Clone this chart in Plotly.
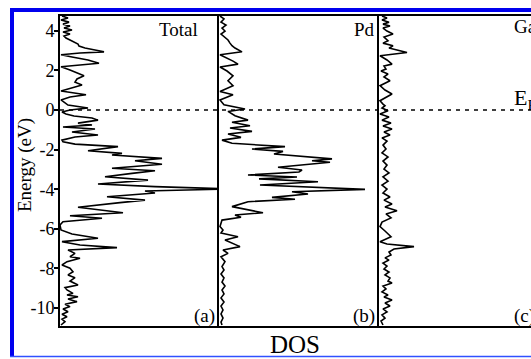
import plotly.graph_objects as go

# Density of states: energy (eV) vs DOS (arb. units)
total_energy = [4.75, 4.65, 4.55, 4.44, 4.34, 4.24, 4.14, 4.04, 3.94, 3.84, 3.74, 3.64, 3.54, 3.43,
                3.33, 3.23, 3.13, 3.03, 2.94, 2.88, 2.79, 2.68, 2.53, 2.36, 2.27, 2.19, 2.02, 1.87,
                1.73, 1.57, 1.41, 1.26, 1.11, 0.96, 0.77, 0.66, 0.51, 0.40, 0.25, 0.10, 0.00, -0.10,
                -0.20, -0.30, -0.40, -0.51, -0.66, -0.76, -0.86, -0.96, -1.11, -1.26, -1.36, -1.52,
                -1.60, -1.72, -1.85, -2.06, -2.19, -2.27, -2.44, -2.56, -2.74, -2.94, -3.07, -3.20,
                -3.37, -3.54, -3.74, -3.87, -3.99, -4.09, -4.19, -4.38, -4.55, -4.68, -4.91, -5.19,
                -5.34, -5.47, -5.64, -5.81, -6.06, -6.26, -6.48, -6.65, -6.82, -6.95, -7.07, -7.24,
                -7.41, -7.49, -7.66, -7.83, -7.99, -8.17, -8.33, -8.47, -8.64, -8.84, -8.97, -9.09,
                -9.26, -9.34, -9.43, -9.55, -9.68, -9.81, -9.93, -10.05, -10.19, -10.32, -10.44,
                -10.56, -10.69, -10.86]
total_dos = [0.2, 0.8, 0.1, 0.9, 0.3, 1.0, 0.4, 1.2, 0.3, 1.0, 0.4, 0.6, 1.0, 1.4,
             1.8, 1.9, 2.5, 3.5, 4.4, 2.0, 0.1, 1.2, 2.8, 3.9, 1.5, 0.1, 1.0, 1.8,
             2.4, 1.7, 1.5, 2.2, 1.0, 0.1, 2.6, 1.0, 0.1, 0.4, 0.8, 2.8, 1.0, 0.2,
             0.6, 1.4, 3.2, 3.8, 1.8, 3.2, 0.3, 3.5, 1.2, 3.8, 1.5, 0.2,
             0.3, 1.5, 5.8, 2.8, 6.2, 5.2, 10.2, 7.5, 10.2, 5.2, 9.5, 7.2,
             4.5, 8.8, 3.8, 9.5, 17.0, 8.5, 9.5, 4.7, 8.5, 6.0, 1.8, 6.3,
             1.0, 4.2, 0.3, 0.0, 0.1, 1.2, 3.8, 0.2, 2.0, 5.7, 0.8, 1.5,
             1.0, 2.0, 0.7, 0.2, 1.0, 1.3, 0.8, 1.5, 1.0, 1.8, 0.5, 0.7,
             1.3, 0.7, 1.8, 0.8, 1.7, 0.5, 1.0, 0.3, 0.8, 0.2, 0.7,
             0.2, 0.5, 0.1]

pd_energy = [4.75, 4.60, 4.44, 4.29, 4.14, 3.99, 3.84, 3.69, 3.54, 3.38, 3.25, 3.13, 2.94, 2.79,
             2.63, 2.47, 2.32, 2.17, 1.97, 1.73, 1.48, 1.23, 0.94, 0.77, 0.51, 0.27, 0.05, -0.07,
             -0.29, -0.51, -0.62, -0.79, -0.91, -1.08, -1.21, -1.38, -1.52, -1.68, -1.85, -1.97,
             -2.09, -2.22, -2.47, -2.56, -2.64, -2.89, -3.03, -3.13, -3.28, -3.38, -3.48, -3.62,
             -3.79, -3.87, -4.01, -4.13, -4.24, -4.41, -4.51, -4.63, -4.88, -5.19, -5.30, -5.42,
             -5.56, -5.89, -6.06, -6.21, -6.40, -6.57, -6.90, -7.07, -7.24, -7.41, -7.66, -7.91,
             -8.08, -8.28, -8.48, -8.69, -8.89, -9.09, -9.29, -9.49, -9.70, -9.90, -10.10, -10.30,
             -10.51, -10.71, -10.86]
pd_dos = [0.1, 0.5, 0.2, 0.7, 0.3, 0.6, 0.2, 0.5, 0.9, 1.1, 1.3, 1.6, 2.3, 0.1,
          0.8, 1.4, 1.9, 0.1, 0.8, 1.4, 0.9, 1.4, 0.1, 1.4, 0.1, 0.5, 2.6, 0.9,
          1.6, 2.9, 1.3, 3.1, 1.1, 3.3, 0.9, 2.2, 0.3, 1.3, 6.6, 3.3,
          6.4, 5.5, 11.3, 9.3, 11.1, 5.9, 8.3, 8.0, 2.9, 7.8, 4.0, 9.9,
          4.1, 7.9, 14.6, 7.3, 8.9, 5.3, 7.6, 2.9, 1.3, 4.4, 1.6, 2.2,
          0.3, 0.1, 0.4, 0.2, 1.9, 0.6, 2.1, 0.4, 0.9, 0.2, 0.6, 0.3,
          0.5, 0.2, 0.5, 0.3, 0.6, 0.3, 0.5, 0.2, 0.5, 0.2, 0.4, 0.2,
          0.4, 0.2, 0.3]

ga_energy = [4.75, 4.65, 4.55, 4.44, 4.34, 4.24, 4.14, 3.99, 3.84, 3.69, 3.50, 3.38, 3.25, 3.13,
             2.91, 2.74, 2.53, 2.32, 2.22, 2.07, 1.97, 1.82, 1.67, 1.48, 1.23, 1.01, 0.81, 0.47,
             0.30, 0.22, 0.10, -0.04, -0.20, -0.35, -0.51, -0.66, -0.81, -0.96, -1.11, -1.26,
             -1.41, -1.57, -1.77, -1.97, -2.17, -2.37, -2.58, -2.78, -2.98, -3.18, -3.38, -3.59,
             -3.79, -3.99, -4.19, -4.39, -4.55, -4.75, -4.90, -5.09, -5.25, -5.45, -5.66, -5.89,
             -6.11, -6.40, -6.65, -6.77, -6.90, -7.02, -7.17, -7.32, -7.47, -7.58, -7.73, -7.88,
             -8.03, -8.18, -8.33, -8.48, -8.64, -8.74, -8.89, -9.04, -9.19, -9.34, -9.44, -9.60,
             -9.75, -9.90, -10.05, -10.20, -10.35, -10.51, -10.66, -10.86]
ga_dos = [0.3, 0.8, 0.3, 1.0, 0.4, 1.1, 0.4, 0.8, 1.4, 0.5, 0.9, 0.4, 1.4, 1.0,
          2.8, 0.1, 0.8, 1.3, 0.5, 0.7, 0.2, 0.9, 0.5, 1.1, 0.1, 0.6, 1.3, 0.1,
          0.4, 0.6, 0.3, 0.9, 0.1, 1.0, 0.3, 1.2, 0.4, 1.3, 0.5, 1.1,
          0.3, 0.8, 0.4, 0.7, 0.3, 0.9, 0.4, 0.8, 0.5, 1.0, 0.4, 0.9,
          0.3, 0.8, 0.4, 1.1, 0.5, 1.3, 0.6, 1.8, 0.7, 1.2, 0.3, 0.1,
          0.6, 1.2, 0.1, 0.8, 3.5, 1.5, 1.0, 1.2, 0.6, 1.0, 0.4, 0.8,
          0.5, 1.0, 0.6, 1.1, 0.9, 1.3, 0.4, 0.7, 0.3, 0.9, 0.5, 1.3,
          0.6, 1.1, 0.4, 0.8, 0.3, 0.6, 0.2, 0.4]

energy_ticks = [-10, -8, -6, -4, -2, 0, 2, 4]
energy_tick_text = ["-10", "-8", "-6", "-4", "-2", "0", "2", "4"]
panel_names = ["Total", "Pd", "Ga"]
panel_tags = ["(a)", "(b)", "(c)"]

W, H = 531, 359
SERIF = "Liberation Serif"


def px(x):
    return x / W


def py(y):
    return 1 - y / H


x_domains = [[px(60), px(219)], [px(219), px(379)], [px(379), 1.0]]
x_ranges = [[0, 15.9], [0, 16.0], [0, 15.2]]
y_domain = [py(326), py(16)]
y_range = [-10.91, 4.75]

fig = go.Figure()
series = [(total_dos, total_energy), (pd_dos, pd_energy), (ga_dos, ga_energy)]
for i, (dos, en) in enumerate(series):
    sfx = "" if i == 0 else str(i + 1)
    fig.add_trace(go.Scatter(x=dos, y=en, mode="lines", xaxis="x" + sfx, yaxis="y" + sfx,
                             line=dict(color="black", width=1.6), showlegend=False,
                             hoverinfo="skip", cliponaxis=True))

layout = dict(width=W, height=H, margin=dict(l=0, r=0, t=0, b=0),
              paper_bgcolor="white", plot_bgcolor="white", showlegend=False)
for i in range(3):
    sfx = "" if i == 0 else str(i + 1)
    layout["xaxis" + sfx] = dict(domain=x_domains[i], range=x_ranges[i], anchor="y" + sfx,
                                 showgrid=False, zeroline=False, showticklabels=False,
                                 ticks="", showline=True, mirror=True, linecolor="black",
                                 linewidth=2)
    layout["yaxis" + sfx] = dict(domain=y_domain, range=y_range, anchor="x" + sfx,
                                 showgrid=False, zeroline=False, showline=True,
                                 linecolor="black", linewidth=2, mirror=False)
layout["yaxis"].update(tickvals=energy_ticks, ticktext=energy_tick_text, ticks="outside",
                       ticklen=4, tickwidth=1.5, tickcolor="black", ticklabelstandoff=-4,
                       tickfont=dict(family=SERIF, size=18, color="black"))
layout["yaxis2"].update(showticklabels=False, ticks="")
layout["yaxis3"].update(showticklabels=False, ticks="")
fig.update_layout(**layout)

shapes = [
    # Fermi level
    dict(type="line", xref="paper", yref="y", x0=px(60), x1=1.0, y0=0, y1=0,
         line=dict(color="black", width=1.5, dash="4px,5px")),
    # blue frame
    dict(type="rect", xref="paper", yref="paper", x0=px(10), x1=1.02, y0=py(12), y1=py(8),
         fillcolor="#0000ee", line=dict(width=0)),
    dict(type="rect", xref="paper", yref="paper", x0=px(10), x1=px(14), y0=py(357), y1=py(8),
         fillcolor="#0000ee", line=dict(width=0)),
    dict(type="line", xref="paper", yref="paper", x0=px(10), x1=1.0, y0=py(356.5), y1=py(356.5),
         line=dict(color="#3050ff", width=1.5)),
]
fig.update_layout(shapes=shapes)

annotations = [
    dict(text=panel_names[0], x=px(200), y=py(29), xanchor="right", yanchor="middle"),
    dict(text=panel_names[1], x=px(377), y=py(29), xanchor="right", yanchor="middle"),
    dict(text=panel_names[2], x=px(512), y=py(27), xanchor="left", yanchor="middle"),
    dict(text=panel_tags[0], x=px(217), y=py(316), xanchor="right", yanchor="middle"),
    dict(text=panel_tags[1], x=px(377), y=py(316), xanchor="right", yanchor="middle"),
    dict(text=panel_tags[2], x=px(512), y=py(316), xanchor="left", yanchor="middle"),
    dict(text="E<sub>F</sub>", x=px(512), y=py(99), xanchor="left", yanchor="middle",
         font=dict(family=SERIF, size=22, color="black")),
    dict(text="DOS", x=px(295), y=py(344), xanchor="center", yanchor="middle",
         font=dict(family=SERIF, size=25, color="black")),
    dict(text="Energy (eV)", x=px(25), y=py(165), xanchor="center", yanchor="middle",
         textangle=-90, font=dict(family=SERIF, size=19, color="black")),
]
for a in annotations:
    a.setdefault("font", dict(family=SERIF, size=19, color="black"))
    a.update(xref="paper", yref="paper", showarrow=False)
fig.update_layout(annotations=annotations)

fig.write_html("out.html")
